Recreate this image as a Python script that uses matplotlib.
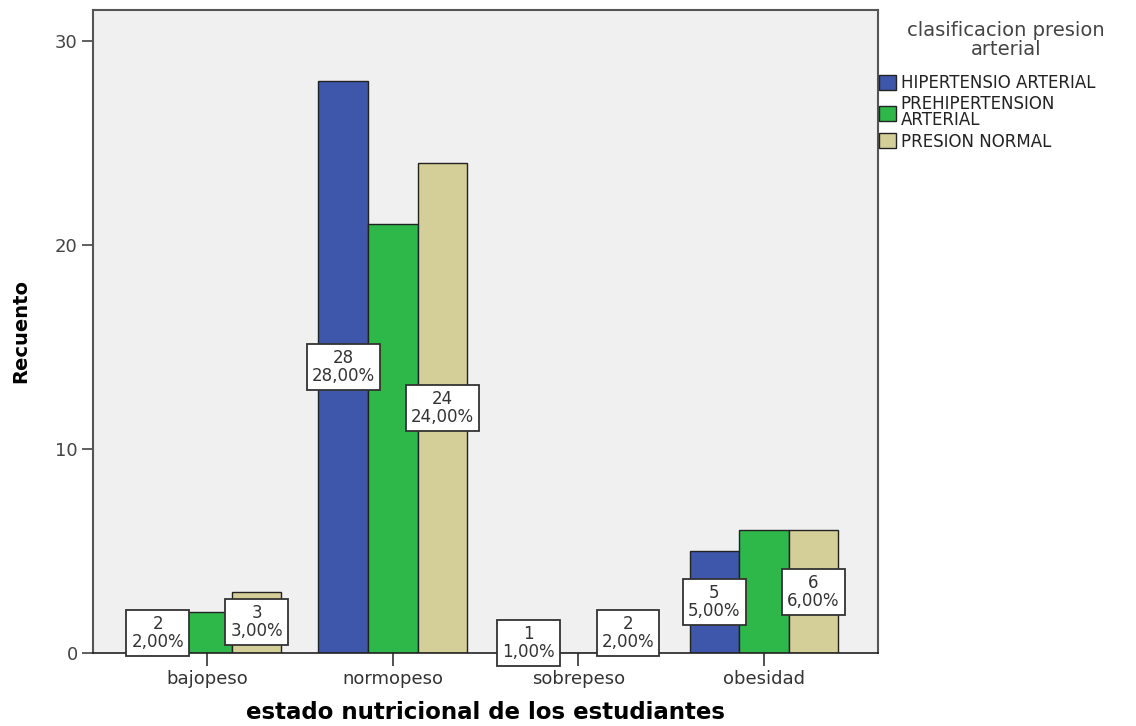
import numpy as np
import matplotlib
matplotlib.use("Agg")
import matplotlib.pyplot as plt
from matplotlib.patches import Patch

# counts per nutritional state and blood-pressure class (n = 100)
categorias = ["bajopeso", "normopeso", "sobrepeso", "obesidad"]
series = ["HIPERTENSIO ARTERIAL", "PREHIPERTENSION\nARTERIAL", "PRESION NORMAL"]
hipertension = [2, 28, 1, 5]
prehipertension = [2, 21, 0, 6]
normal = [3, 24, 2, 6]
colores = ["#3e57aa", "#2fb84a", "#d4cf99"]
total = 100

plt.rcParams["font.family"] = ["DejaVu Sans"]

fig = plt.figure(figsize=(11.36, 7.26), dpi=100)
ax = fig.add_axes([0.0819, 0.1006, 0.691, 0.8856])
ax.set_facecolor("#f0f0f0")

x = np.arange(len(categorias))
w = 0.267
valores = [hipertension, prehipertension, normal]
for i, (vals, col) in enumerate(zip(valores, colores)):
    ax.bar(x + (i - 1) * w, vals, w, color=col, edgecolor="#222222",
           linewidth=1.0, zorder=2)

# value labels (count and percent) on the first and last series
def etiqueta(xp, v):
    ax.text(xp, v / 2, f"{v}\n{v / total * 100:.2f}%".replace(".", ","),
            ha="center", va="center", fontsize=12, color="#333333",
            linespacing=1.0, zorder=5, clip_on=False,
            bbox=dict(boxstyle="square,pad=0.3", fc="white",
                      ec="#333333", lw=1.3))

for xi, v in zip(x - w, hipertension):
    etiqueta(xi, v)
for xi, v in zip(x + w, normal):
    etiqueta(xi, v)

ax.set_xlim(-0.615, 3.615)
ax.set_ylim(0, 31.5)
ax.set_yticks([0, 10, 20, 30])
ax.set_xticks(x)
ax.set_xticklabels(categorias)
ax.tick_params(axis="y", labelsize=13, colors="#444444", length=8, width=1.2,
               direction="out", pad=3)
ax.tick_params(axis="x", labelsize=13, colors="#333333", length=9,
               width=1.2, direction="out", pad=3)

for s in ["left", "top", "right"]:
    ax.spines[s].set_color("#555555")
    ax.spines[s].set_linewidth(1.5)
ax.spines["bottom"].set_color("#222222")
ax.spines["bottom"].set_linewidth(1.2)

ax.set_xlabel("estado nutricional de los estudiantes", fontsize=16.5,
              fontweight="bold", va="center")
ax.xaxis.set_label_coords(0.5, -0.092)
ax.set_ylabel("Recuento", fontsize=14, fontweight="bold", labelpad=18)

# legend outside the plot, title drawn above it
fig.text(1006 / 1136, 1 - 40 / 726, "clasificacion presion\narterial",
         ha="center", va="center", fontsize=14, color="#444444",
         linespacing=0.95, multialignment="center")
handles = [Patch(facecolor=c, edgecolor="#222222", lw=1.0) for c in colores]
leg = fig.legend(handles, series, loc="upper left",
                 bbox_to_anchor=(879 / 1136, 1 - 74 / 726),
                 frameon=False, fontsize=12,
                 handlelength=1.0, handleheight=1.0, handletextpad=0.3,
                 labelspacing=0.2, borderaxespad=0.0, borderpad=0.0)
for t in leg.get_texts():
    t.set_color("#222222")
    t.set_linespacing(0.85)

fig.savefig("out.png", dpi=100)
